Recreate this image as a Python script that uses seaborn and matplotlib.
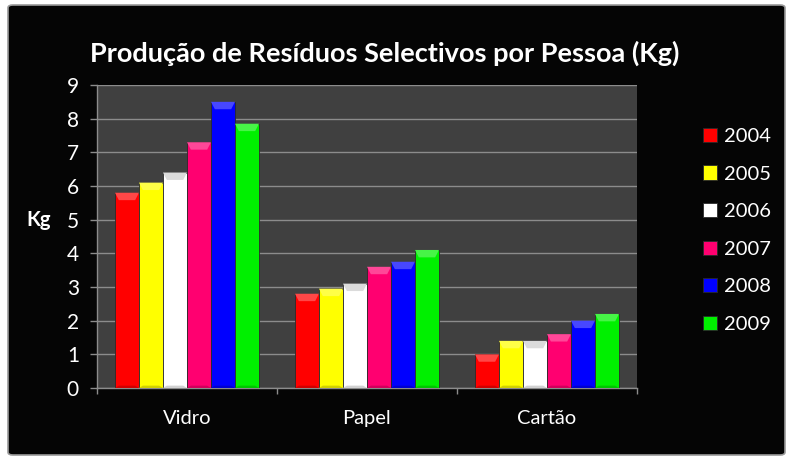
import pandas as pd
import numpy as np
import seaborn as sns
import matplotlib.pyplot as plt
from matplotlib.patches import FancyBboxPatch, Polygon
from matplotlib.colors import to_rgb

materiais = ['Vidro', 'Papel', 'Cartão']
anos = ['2004', '2005', '2006', '2007', '2008', '2009']
vidro = [5.8, 6.1, 6.4, 7.3, 8.5, 7.85]
papel = [2.8, 2.95, 3.1, 3.6, 3.75, 4.1]
cartao = [1.0, 1.4, 1.4, 1.6, 2.0, 2.2]
cores = ['#ff0000', '#ffff00', '#ffffff', '#ff0070', '#0000ff', '#00f000']

rows = []
for mat, vals in zip(materiais, [vidro, papel, cartao]):
    for ano, v in zip(anos, vals):
        rows.append({'Material': mat, 'Ano': ano, 'Kg': v})
df = pd.DataFrame(rows)

sns.set_style('dark')
plt.rcParams['font.family'] = ['Lato', 'DejaVu Sans']

fig = plt.figure(figsize=(7.94, 4.68), dpi=100)
fig.patch.set_facecolor('white')

# black panel behind the chart
panel = FancyBboxPatch((8 / 794, 13 / 468), 777 / 794, 450 / 468,
                       boxstyle='round,pad=0,rounding_size=0.006',
                       transform=fig.transFigure, facecolor='#050505',
                       edgecolor='#9a9a9a', linewidth=1.2, zorder=-10)
fig.patches.append(panel)

ax = fig.add_axes([97 / 794, 80 / 468, 540 / 794, 303 / 468])
ax.set_facecolor('#404040')

sns.barplot(data=df, x='Material', y='Kg', hue='Ano', palette=cores,
            saturation=1, width=0.8, ax=ax, edgecolor='#2a2a2a', linewidth=0.6,
            zorder=3)

# bevel on top of each bar
for cont, c in zip(ax.containers, cores):
    rgb = np.array(to_rgb(c))
    light = tuple(rgb + (1 - rgb) * 0.28)
    if rgb.min() > 0.9:
        light = (0.86, 0.86, 0.86)
    dark = tuple(rgb * 0.82)
    for bar in cont:
        x0 = bar.get_x()
        w = bar.get_width()
        h = bar.get_height()
        dx = w * 0.16
        dy = 0.22
        ax.add_patch(Polygon([(x0, h), (x0 + w, h), (x0 + w - dx, h - dy), (x0 + dx, h - dy)],
                             closed=True, facecolor=light, edgecolor='none', zorder=4))
        ax.add_patch(Polygon([(x0, 0), (x0 + w, 0), (x0 + w - dx, 0.07), (x0 + dx, 0.07)],
                             closed=True, facecolor=dark, edgecolor='none', zorder=4))

ax.set_ylim(0, 9)
ax.set_xlim(-0.5, 2.5)
ax.set_yticks(range(0, 10))
ax.yaxis.grid(True, color='#8c8c8c', linewidth=1, zorder=0)
ax.xaxis.grid(False)
ax.set_axisbelow(True)

for s in ['top', 'right']:
    ax.spines[s].set_visible(False)
for s in ['left', 'bottom']:
    ax.spines[s].set_visible(True)
    ax.spines[s].set_color('#8c8c8c')
    ax.spines[s].set_linewidth(1)

ax.tick_params(axis='y', colors='#8c8c8c', labelsize=15, length=5, width=1,
               pad=8, left=True, labelcolor='white')
ax.set_xticks([0, 1, 2])
ax.set_xticklabels(materiais)
ax.set_xticks([-0.5, 0.5, 1.5, 2.5], minor=True)
ax.tick_params(axis='x', which='major', length=0, labelsize=14.5, labelcolor='white', pad=16)
ax.tick_params(axis='x', which='minor', length=4, width=1, color='#8c8c8c', bottom=True)

ax.set_xlabel('')
ax.set_ylabel('Kg', rotation=0, color='white', fontsize=14.5, fontweight='bold')
ax.yaxis.set_label_coords(-0.109, 0.52)

ax.set_title('Produção de Resíduos Selectivos por Pessoa (Kg)', color='white',
             fontsize=19.5, fontweight='bold', pad=17, x=0.533)

leg = ax.legend(loc='center left', bbox_to_anchor=(1.104, 0.52), frameon=False,
                fontsize=14.5, handlelength=0.7, handleheight=0.7,
                handletextpad=0.35, labelspacing=1.02, borderpad=0)
for t in leg.get_texts():
    t.set_color('white')

fig.savefig('out.png', dpi=100, facecolor=fig.get_facecolor())
